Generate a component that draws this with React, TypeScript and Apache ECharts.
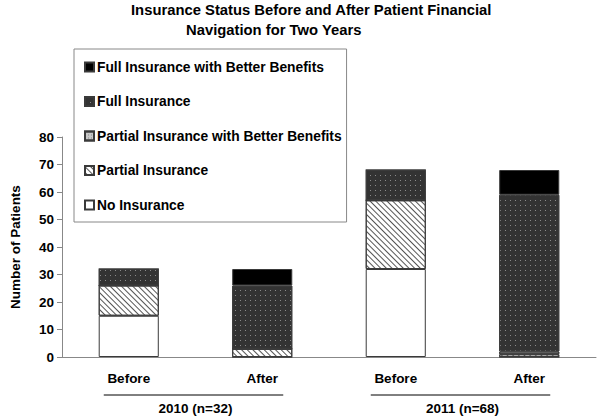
import React, { useEffect, useRef } from "react";
import * as echarts from "echarts";

const categories = ["Before", "After", "Before", "After"];
const groups = ["2010 (n=32)", "2011 (n=68)"];
const noInsurance = [15, 0, 32, 0];
const partialInsurance = [11, 3, 25, 1];
const partialBetter = [0, 0, 0, 1];
const fullInsurance = [6, 23, 11, 57];
const fullBetter = [0, 6, 0, 9];
const yTicks = { min: 0, max: 80, interval: 10 };
const titleLine1 = "Insurance Status Before and After Patient Financial";
const titleLine2 = "Navigation for Two Years";

const FONT = "'Liberation Sans', Arial, sans-serif";
const BORDER = "#3a3a3a";

export default function App() {
  const ref = useRef<HTMLDivElement>(null);
  useEffect(() => {
    document.body.style.margin = "0";
    if (!ref.current) return;
    const chart = echarts.init(ref.current, null, { renderer: "svg" });
    const mk = (name: string, data: number[], color: string, decal: any) => ({
      name,
      type: "bar",
      stack: "total",
      data,
      barWidth: "45%",
      itemStyle: { color, borderColor: BORDER, borderWidth: 1, decal },
    });
    const txt = (size: number) => ({ fontFamily: FONT, fontSize: size, fontWeight: "bold", color: "#000" });
    chart.setOption({
      animation: false,
      title: [
        { text: titleLine1, left: 131, top: 2, padding: 0, textStyle: txt(14.8) },
        { text: titleLine2, left: 186, top: 22, padding: 0, textStyle: txt(14.8) },
      ],
      legend: {
        orient: "vertical",
        left: 74,
        top: 49,
        padding: [11, 5, 10, 10],
        itemGap: 20.5,
        itemWidth: 9,
        itemHeight: 9,
        icon: "rect",
        borderColor: "#888",
        borderWidth: 1,
        backgroundColor: "#fff",
        textStyle: { ...txt(13.8), lineHeight: 14, padding: [0, 0, 0, -2] },
        data: [
          "Full Insurance with Better Benefits",
          "Full Insurance",
          "Partial Insurance with Better Benefits",
          "Partial Insurance",
          "No Insurance",
        ],
      },
      grid: { left: 58, right: 4, top: 137, bottom: 61 },
      xAxis: [
        {
          type: "category",
          data: categories,
          axisLine: { lineStyle: { color: "#888" } },
          axisTick: { interval: 1, length: 5, lineStyle: { color: "#888" } },
          axisLabel: { margin: 14, ...txt(13.5) },
        },
        {
          type: "category",
          data: groups,
          position: "bottom",
          offset: 36,
          axisLine: { show: false },
          axisTick: { show: false },
          axisLabel: { margin: 8, ...txt(13.5) },
        },
      ],
      yAxis: {
        type: "value",
        min: yTicks.min,
        max: yTicks.max,
        interval: yTicks.interval,
        name: "Number of Patients",
        nameLocation: "middle",
        nameGap: 40,
        nameTextStyle: txt(13.5),
        axisLine: { show: true, lineStyle: { color: "#888" } },
        axisTick: { show: true, length: 5, lineStyle: { color: "#888" } },
        splitLine: { show: false },
        axisLabel: { margin: 8, ...txt(13.5) },
      },
      series: [
        mk("No Insurance", noInsurance, "#ffffff", null),
        mk("Partial Insurance", partialInsurance, "#ffffff", {
          symbol: "rect",
          color: "#555",
          dashArrayX: [1, 0],
          dashArrayY: [1, 2.5],
          rotation: Math.PI / 4,
          symbolSize: 1,
        }),
        mk("Partial Insurance with Better Benefits", partialBetter, "#c8c8c8", {
          symbol: "rect",
          color: "#888",
          dashArrayX: [1, 2],
          dashArrayY: [1, 2],
          symbolSize: 1,
        }),
        mk("Full Insurance", fullInsurance, "#333333", {
          symbol: "rect",
          color: "#8a8a8a",
          dashArrayX: [1, 4],
          dashArrayY: [1, 4],
          symbolSize: 1,
        }),
        mk("Full Insurance with Better Benefits", fullBetter, "#000000", null),
      ],
    });

    // Group underlines beneath the category labels
    const y0 = chart.convertToPixel({ xAxisIndex: 0, yAxisIndex: 0 } as any, [0, 0])[1];
    const lines: any[] = [];
    for (let g = 0; g < groups.length; g++) {
      const xa = chart.convertToPixel({ xAxisIndex: 0 } as any, g * 2) as number;
      const xb = chart.convertToPixel({ xAxisIndex: 0 } as any, g * 2 + 1) as number;
      lines.push({
        type: "line",
        shape: { x1: xa - 25, y1: y0 + 38, x2: xb + 21, y2: y0 + 38 },
        style: { stroke: "#000", lineWidth: 1 },
      });
    }
    chart.setOption({ graphic: lines });
    return () => chart.dispose();
  }, []);
  return <div ref={ref} style={{ width: 600, height: 418 }} />;
}
